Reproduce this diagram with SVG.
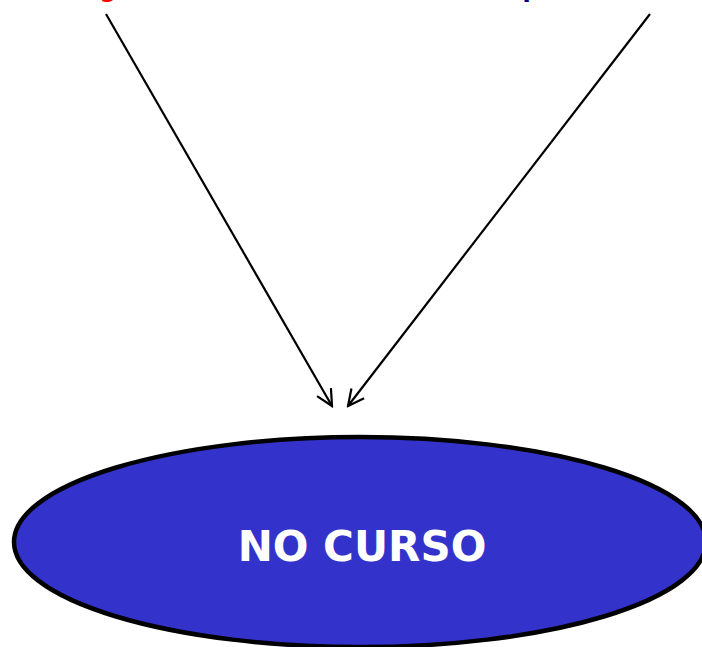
<svg xmlns="http://www.w3.org/2000/svg" width="702" height="647" viewBox="0 0 702 647">
<style>
.conn{stroke:#000;stroke-width:2.2;fill:none;marker-end:url(#arr)}
.lbl{font-family:"DejaVu Sans",Verdana,sans-serif;font-weight:bold}
</style>
<defs>
<marker id="arr" viewBox="0 0 20 20" refX="18" refY="10" markerWidth="20" markerHeight="20" markerUnits="userSpaceOnUse" orient="auto">
<path d="M2,2 L18,10 L2,18" fill="none" stroke="#000" stroke-width="2.2"/>
</marker>
</defs>
<rect width="702" height="647" fill="#fff"/>
<g id="top-left"><text class="lbl" x="108" y="-3" font-size="24" fill="#ff0000" text-anchor="middle">g</text></g>
<g id="top-right"><text class="lbl" x="531" y="-3" font-size="24" fill="#000080" text-anchor="middle">p</text></g>
<g id="connectors">
<line class="conn" x1="106" y1="14" x2="332" y2="406"/>
<line class="conn" x1="650" y1="14" x2="348" y2="406"/>
</g>
<g id="no-curso">
<ellipse cx="360" cy="542" rx="346" ry="105" fill="#3333cc" stroke="#000" stroke-width="4.5"/>
<text class="lbl" x="362" y="561" font-size="42" fill="#fff" text-anchor="middle">NO CURSO</text>
</g>
</svg>
